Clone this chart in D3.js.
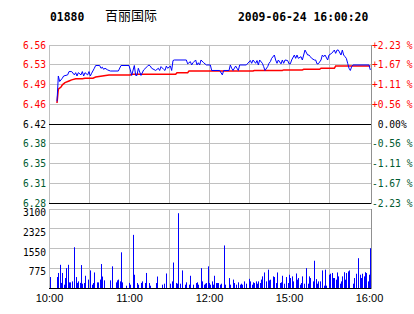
<!DOCTYPE html>
<html>
<head>
<meta charset="utf-8">
<script src="https://cdn.jsdelivr.net/npm/d3@7"></script>
<style>
  body { margin: 0; background: #fff; }
  svg { display: block; background: #fff; }
  .lbl { font-family: "DejaVu Sans Mono", monospace; font-size: 9.6px; }
  .tm { font-family: "Liberation Sans", Arial, sans-serif; font-size: 11px; }
  .head { font-family: "DejaVu Sans Mono", monospace; font-size: 11.4px; font-weight: bold; }
  .name { font-family: "Noto Sans CJK SC", sans-serif; font-size: 13px; }
</style>
</head>
<body>
<svg width="414" height="314"></svg>
<script>
(function () {
  "use strict";
  const stockCode = "01880";
  const stockName = "百丽国际";
  const stamp = "2009-06-24 16:00:20";
  const prevClose = 6.42;

  const pctTicks = [2.23, 1.67, 1.11, 0.56, 0, -0.56, -1.11, -1.67, -2.23];
  const priceLabels = ["6.56", "6.53", "6.49", "6.46", "6.42", "6.38", "6.35", "6.31", "6.28"];
  const pctLabels = ["+2.23 %", "+1.67 %", "+1.11 %", "+0.56 %", "\u00a00.00%", "-0.56 %", "-1.11 %", "-1.67 %", "-2.23 %"];
  const volTicks = [775, 1550, 2325, 3100];
  const volLabels = ["775", "1550", "2325", "3100"];
  const timeTicks = [0, 60, 120, 180, 240];
  const timeLabels = ["10:00", "11:00", "12:00", "15:00", "16:00"];
  const gridMinutes = [0, 30, 60, 90, 120, 150, 180, 210];

  // [minute from 10:00, price]
  const priceSeries = [
    [6, 6.461], [7, 6.507], [8, 6.497], [10, 6.503], [11, 6.507], [14, 6.509], [15, 6.515],
    [17, 6.515], [19, 6.509], [20, 6.513], [21, 6.507], [22, 6.513], [24, 6.509], [25, 6.515],
    [26, 6.507], [27, 6.513], [29, 6.509], [30, 6.515], [31, 6.507], [32, 6.512], [34, 6.521],
    [35, 6.526], [38, 6.526], [39, 6.521], [40, 6.523], [41, 6.519], [42, 6.521], [44, 6.518],
    [46, 6.516], [52, 6.516], [54, 6.526], [60, 6.526], [61, 6.518], [62, 6.508], [64, 6.526],
    [65, 6.508], [66, 6.508], [67, 6.521], [69, 6.508], [71, 6.518], [74, 6.525], [75, 6.527],
    [76, 6.525], [77, 6.521], [80, 6.517], [82, 6.521], [83, 6.517], [84, 6.524], [86, 6.519],
    [87, 6.517], [88, 6.525], [89, 6.521], [91, 6.525], [92, 6.517], [93, 6.535], [94, 6.536],
    [103, 6.536], [104, 6.529], [106, 6.533], [107, 6.527], [108, 6.531], [110, 6.536],
    [111, 6.527], [112, 6.531], [113, 6.527], [114, 6.536], [116, 6.531], [117, 6.529],
    [118, 6.527], [121, 6.527], [122, 6.517], [128, 6.517], [130, 6.509], [131, 6.517],
    [135, 6.517], [136, 6.527], [137, 6.521], [138, 6.517], [140, 6.525], [141, 6.521],
    [142, 6.517], [143, 6.527], [148, 6.527], [151, 6.535], [152, 6.530], [153, 6.536],
    [155, 6.530], [156, 6.535], [157, 6.527], [158, 6.536], [160, 6.530], [161, 6.524],
    [162, 6.517], [164, 6.524], [165, 6.530], [166, 6.533], [167, 6.539], [169, 6.545],
    [170, 6.536], [171, 6.530], [172, 6.536], [174, 6.529], [175, 6.536], [176, 6.530],
    [177, 6.536], [179, 6.535], [180, 6.529], [181, 6.529], [182, 6.536], [184, 6.545],
    [185, 6.539], [186, 6.545], [187, 6.539], [189, 6.542], [190, 6.536], [191, 6.545],
    [192, 6.554], [194, 6.545], [195, 6.545], [196, 6.542], [197, 6.539], [199, 6.536],
    [200, 6.536], [201, 6.529], [202, 6.529], [204, 6.536], [205, 6.545], [206, 6.542],
    [207, 6.545], [209, 6.536], [210, 6.545], [212, 6.548], [214, 6.554], [215, 6.548],
    [216, 6.554], [217, 6.554], [219, 6.545], [220, 6.554], [221, 6.545], [222, 6.542],
    [223, 6.539], [224, 6.530], [225, 6.521], [226, 6.517], [227, 6.524], [228, 6.527],
    [240, 6.527], [241, 6.518]
  ];

  // [minute, average price]
  const avgSeries = [
    [6, 6.458], [7, 6.483], [9, 6.487], [10, 6.491], [12, 6.495], [15, 6.498], [17, 6.500],
    [20, 6.502], [25, 6.502], [27, 6.503], [33, 6.503], [35, 6.505], [40, 6.507], [45, 6.509],
    [61, 6.509], [62, 6.510], [95, 6.510], [96, 6.513], [104, 6.513], [105, 6.516],
    [153, 6.516], [154, 6.517], [175, 6.517], [176, 6.518], [190, 6.518], [191, 6.519],
    [203, 6.519], [204, 6.521], [214, 6.521], [215, 6.525], [241, 6.525]
  ];

  // [minute, volume]
  const volumeSeries = [
    [1, 430], [6, 430], [7, 590], [8, 910], [9, 200], [10, 590], [11, 130], [12, 390], [13, 780],
    [14, 910], [15, 220], [16, 220], [17, 260], [19, 1600], [20, 430], [21, 200], [22, 260],
    [23, 200], [24, 900], [25, 170], [26, 195], [27, 480], [29, 330], [31, 690], [32, 130],
    [33, 195], [34, 610], [36, 220], [37, 220], [38, 330], [39, 940], [40, 450], [41, 300],
    [46, 300], [47, 850], [50, 220], [51, 300], [52, 330], [53, 260], [54, 1400], [55, 220],
    [58, 90], [60, 200], [61, 130], [63, 2085], [64, 520], [66, 195], [67, 130], [69, 200],
    [70, 260], [72, 195], [73, 590], [75, 195], [76, 91], [80, 195], [81, 450], [85, 130],
    [86, 169], [88, 570], [91, 169], [92, 260], [93, 1000], [95, 195], [96, 169], [97, 2935],
    [98, 169], [100, 690], [102, 130], [103, 222], [105, 130], [106, 480], [108, 130],
    [110, 195], [111, 222], [112, 130], [114, 780], [115, 260], [116, 130], [117, 169],
    [118, 195], [119, 850], [120, 195], [121, 130], [122, 260], [123, 130], [124, 480],
    [125, 195], [126, 195], [127, 195], [128, 130], [129, 169], [131, 1670], [132, 130],
    [135, 390], [136, 130], [138, 330], [139, 195], [140, 130], [142, 222], [143, 130],
    [144, 169], [145, 130], [146, 260], [148, 169], [150, 360], [151, 260], [152, 130],
    [153, 222], [154, 195], [155, 260], [156, 169], [157, 260], [158, 195], [159, 330],
    [160, 456], [161, 610], [163, 260], [164, 720], [165, 300], [166, 326], [168, 456],
    [169, 430], [170, 195], [171, 610], [173, 195], [174, 222], [175, 480], [176, 169],
    [178, 430], [179, 195], [180, 520], [181, 391], [182, 456], [183, 260], [185, 570],
    [186, 326], [187, 391], [188, 130], [189, 195], [190, 456], [191, 169], [193, 780],
    [194, 169], [195, 456], [196, 391], [198, 260], [199, 1070], [200, 350], [201, 169],
    [202, 260], [203, 260], [205, 690], [206, 91], [207, 720], [208, 91], [210, 521],
    [211, 560], [212, 590], [213, 391], [214, 391], [215, 326], [216, 610], [217, 456],
    [218, 169], [219, 260], [220, 456], [221, 620], [222, 326], [223, 587], [224, 652],
    [225, 690], [228, 169], [229, 391], [230, 560], [232, 1170], [233, 521], [234, 391],
    [235, 560], [236, 456], [237, 620], [238, 587], [239, 260], [240, 521], [241, 1560]
  ];

  const red = "#ff0000";
  const green = "#005a30";
  const gridColor = "#c0c0c0";

  const svg = d3.select("svg");

  const left = 49;
  const right = 371;
  const priceTop = 45;
  const priceBottom = 203;
  const volTop = 209;
  const volBottom = 288;

  const xScale = d3.scaleLinear().domain([0, 240]).range([left, 369]);
  const pctScale = d3.scaleLinear().domain([-2.23, 2.23]).range([priceBottom, priceTop]);
  const priceScale = d3
    .scaleLinear()
    .domain([prevClose * (1 - 0.0223), prevClose * (1 + 0.0223)])
    .range([priceBottom, priceTop]);
  const volScale = d3.scaleLinear().domain([0, 3100]).range([volBottom, volTop]);

  const crisp = (v) => Math.floor(v) + 0.5;

  // header
  svg.append("text").attr("class", "head").attr("x", 50).attr("y", 21).text(stockCode);
  svg.append("text").attr("class", "name").attr("x", 105).attr("y", 20).text(stockName);
  svg.append("text").attr("class", "head").attr("x", 238).attr("y", 21).text(stamp);

  // vertical grid
  const grid = svg.append("g");
  [[priceTop, priceBottom], [volTop, volBottom]].forEach(([t, b]) => {
    grid
      .selectAll(null)
      .data(gridMinutes)
      .join("line")
      .attr("x1", (d) => crisp(xScale(d)))
      .attr("x2", (d) => crisp(xScale(d)))
      .attr("y1", t)
      .attr("y2", b)
      .attr("stroke", gridColor);
    grid
      .append("line")
      .attr("x1", right + 0.5)
      .attr("x2", right + 0.5)
      .attr("y1", t)
      .attr("y2", b + 1)
      .attr("stroke", "#909090");
  });

  // horizontal grid - price
  grid
    .selectAll(null)
    .data(pctTicks)
    .join("line")
    .attr("x1", left)
    .attr("x2", right)
    .attr("y1", (d) => crisp(pctScale(d)))
    .attr("y2", (d) => crisp(pctScale(d)))
    .attr("stroke", (d) => (d === 0 || d === -2.23 ? "#000" : gridColor));

  // horizontal grid - volume
  grid
    .selectAll(null)
    .data([0].concat(volTicks))
    .join("line")
    .attr("x1", left)
    .attr("x2", right)
    .attr("y1", (d) => crisp(volScale(d)))
    .attr("y2", (d) => crisp(volScale(d)))
    .attr("stroke", (d) => (d === 0 ? "#000" : gridColor));

  // axes
  const colorOf = (d) => (d > 0 ? red : d < 0 ? green : "#000");

  const yLeft = d3
    .axisLeft(pctScale)
    .tickValues(pctTicks)
    .tickSize(0)
    .tickPadding(3)
    .tickFormat((d, i) => priceLabels[i]);
  const yLeftG = svg.append("g").attr("transform", `translate(${left},0)`).call(yLeft);
  yLeftG.select(".domain").remove();
  yLeftG.selectAll("text").attr("class", "lbl").attr("fill", colorOf);

  const yRight = d3
    .axisRight(pctScale)
    .tickValues(pctTicks)
    .tickSize(0)
    .tickPadding(1)
    .tickFormat((d, i) => pctLabels[i]);
  const yRightG = svg.append("g").attr("transform", `translate(${right},0)`).call(yRight);
  yRightG.select(".domain").remove();
  yRightG.selectAll("text").attr("class", "lbl").attr("fill", colorOf);

  const volAxis = d3
    .axisLeft(volScale)
    .tickValues(volTicks)
    .tickSize(0)
    .tickPadding(3)
    .tickFormat((d, i) => volLabels[i]);
  const volAxisG = svg.append("g").attr("transform", `translate(${left},0)`).call(volAxis);
  volAxisG.select(".domain").remove();
  volAxisG.selectAll("text").attr("class", "lbl").attr("fill", "#000").attr("dy", "0.7em");

  const xAxis = d3
    .axisBottom(xScale)
    .tickValues(timeTicks)
    .tickSize(0)
    .tickPadding(6)
    .tickFormat((d, i) => timeLabels[i]);
  const xAxisG = svg.append("g").attr("transform", `translate(0,${volBottom})`).call(xAxis);
  xAxisG.select(".domain").remove();
  xAxisG.selectAll("text").attr("class", "tm").attr("fill", "#000");

  // volume bars
  svg
    .append("g")
    .selectAll("rect")
    .data(volumeSeries)
    .join("rect")
    .attr("x", (d) => Math.round(xScale(d[0])))
    .attr("width", 1)
    .attr("y", (d) => volScale(d[1]))
    .attr("height", (d) => volScale(0) - volScale(d[1]))
    .attr("fill", "#0000ff");

  // lines
  const lineGen = d3
    .line()
    .x((d) => xScale(d[0]))
    .y((d) => priceScale(d[1]));

  svg
    .append("path")
    .attr("d", lineGen(avgSeries))
    .attr("fill", "none")
    .attr("stroke", red)
    .attr("stroke-width", 1.5);

  svg
    .append("path")
    .attr("d", lineGen(priceSeries))
    .attr("fill", "none")
    .attr("stroke", "#0000ff")
    .attr("stroke-width", 1);
})();
</script>
</body>
</html>
